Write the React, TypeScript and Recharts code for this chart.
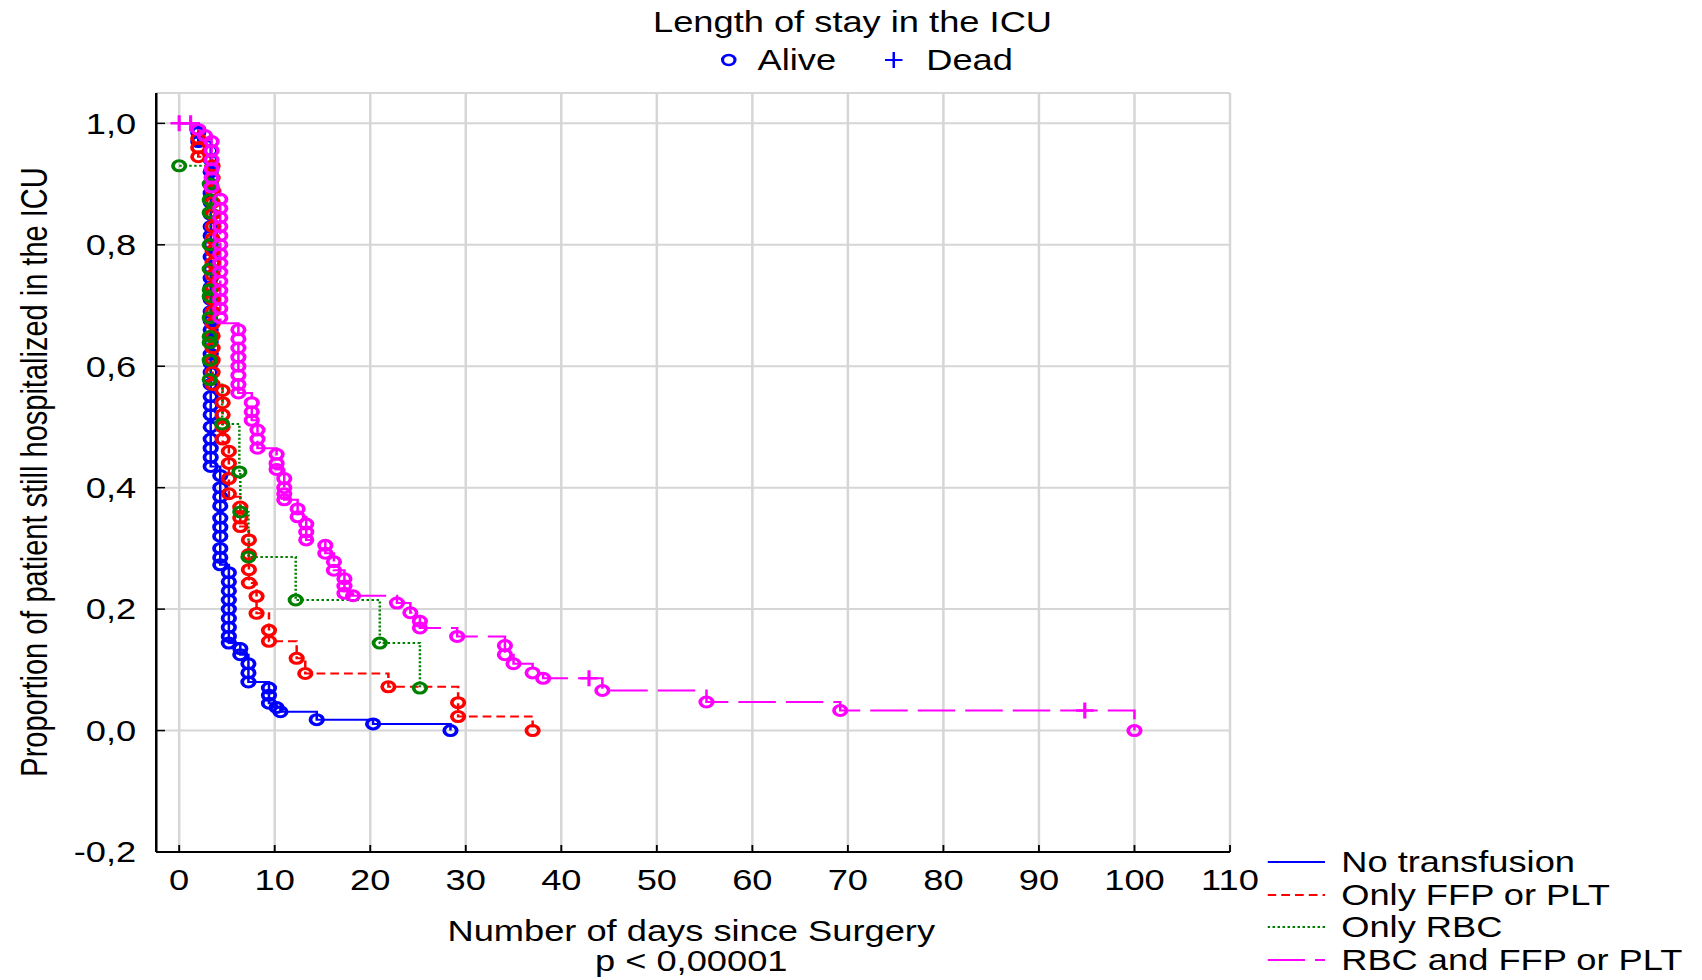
import React from 'react';
import { LineChart, Line, XAxis, YAxis, CartesianGrid } from 'recharts';

// the reference is stretched horizontally, so the whole chart is drawn narrower and scaled
const S = 1.25;
const W = 1362;
const H = 980;
const FONT = "'Liberation Sans', Arial, sans-serif";

const xTicks = [0, 10, 20, 30, 40, 50, 60, 70, 80, 90, 100, 110];
const yTicks = [-0.2, 0, 0.2, 0.4, 0.6, 0.8, 1.0];

const BLUE = '#0000ff';
const RED = '#ff0000';
const GREEN = '#008000';
const MAGENTA = '#ff00ff';

// step curves: [day, proportion still in ICU]
const noTransfusion = [
  [0, 1], [2, 0.97], [3.3, 0.435], [4.3, 0.273], [5.2, 0.144], [6.4, 0.125], [7.25, 0.08],
  [9.4, 0.045], [10.2, 0.038], [10.6, 0.031], [14.4, 0.018], [20.3, 0.011], [28.4, 0],
];
const onlyFfp = [
  [0, 1], [2, 0.945], [3.5, 0.57], [4.55, 0.475], [5.2, 0.385], [6.4, 0.336], [7.3, 0.243],
  [8.1, 0.193], [9.4, 0.147], [12.3, 0.119], [13.2, 0.094], [21.9, 0.072], [29.2, 0.023], [37, 0],
];
const onlyRbc = [
  [0, 0.93], [3.2, 0.57], [4.5, 0.505], [6.3, 0.426], [6.4, 0.36], [7.25, 0.286], [12.2, 0.215],
  [21, 0.144], [25.2, 0.07],
];
const rbcAndFfp = [
  [0, 1], [2, 0.99], [2.7, 0.98], [3.4, 0.89], [4.3, 0.671], [6.2, 0.556], [7.6, 0.511], [8.2, 0.465],
  [10.2, 0.43], [11, 0.38], [12.4, 0.352], [13.3, 0.314], [15.3, 0.292], [16.2, 0.264], [17.3, 0.226],
  [18.2, 0.222], [22.8, 0.21], [24.2, 0.194], [25.2, 0.169], [29.1, 0.155], [34.1, 0.125], [35, 0.11],
  [37, 0.095], [38.1, 0.086], [44.3, 0.066], [55.2, 0.047], [69.2, 0.033], [100, 0],
];

// "Alive" markers (circles): [day, proportions]
const noTransfusionAlive: [number, number[]][] = [
  [2, [0.985, 0.97]],
  [3.3, [0.955, 0.94, 0.92, 0.9, 0.885, 0.87, 0.85, 0.83, 0.815, 0.8, 0.78, 0.76, 0.745, 0.73, 0.71, 0.69,
    0.675, 0.66, 0.64, 0.62, 0.605, 0.59, 0.57, 0.55, 0.535, 0.52, 0.5, 0.48, 0.465, 0.45, 0.435]],
  [4.3, [0.42, 0.4, 0.385, 0.37, 0.35, 0.335, 0.32, 0.3, 0.285, 0.273]],
  [5.2, [0.26, 0.245, 0.23, 0.215, 0.2, 0.185, 0.17, 0.155, 0.144]],
  [6.4, [0.135, 0.125]],
  [7.25, [0.11, 0.095, 0.08]],
  [9.4, [0.07, 0.058, 0.045]],
  [10.2, [0.038]],
  [10.6, [0.031]],
  [14.4, [0.018]],
  [20.3, [0.011]],
  [28.4, [0]],
];
const onlyFfpAlive: [number, number[]][] = [
  [2, [0.975, 0.96, 0.945]],
  [3.5, [0.93, 0.91, 0.89, 0.87, 0.85, 0.83, 0.81, 0.79, 0.77, 0.75, 0.73, 0.71, 0.69, 0.67, 0.65, 0.63,
    0.61, 0.59, 0.57]],
  [4.55, [0.56, 0.54, 0.52, 0.5, 0.48]],
  [5.2, [0.46, 0.44, 0.415, 0.39]],
  [6.4, [0.368, 0.35, 0.336]],
  [7.3, [0.314, 0.29, 0.265, 0.243]],
  [8.1, [0.221, 0.193]],
  [9.4, [0.165, 0.147]],
  [12.3, [0.119]],
  [13.2, [0.094]],
  [21.9, [0.072]],
  [29.2, [0.046, 0.023]],
  [37, [0]],
];
const onlyRbcAlive: [number, number[]][] = [
  [0, [0.93]],
  [3.2, [0.9, 0.874, 0.853, 0.8, 0.76, 0.726, 0.715, 0.68, 0.649, 0.639, 0.61, 0.578]],
  [4.5, [0.505]],
  [6.3, [0.426]],
  [6.4, [0.36]],
  [7.25, [0.286]],
  [12.2, [0.215]],
  [21, [0.144]],
  [25.2, [0.07]],
];
const rbcAndFfpAlive: [number, number[]][] = [
  [2, [0.99]],
  [2.7, [0.98]],
  [3.4, [0.97, 0.955, 0.94, 0.925, 0.91, 0.895]],
  [4.3, [0.875, 0.86, 0.845, 0.83, 0.815, 0.8, 0.785, 0.77, 0.755, 0.74, 0.725, 0.71, 0.695, 0.68]],
  [6.2, [0.66, 0.645, 0.63, 0.615, 0.6, 0.585, 0.57, 0.556]],
  [7.6, [0.54, 0.525, 0.511]],
  [8.2, [0.495, 0.48, 0.465]],
  [10.2, [0.455, 0.44, 0.43]],
  [11, [0.415, 0.4, 0.39, 0.38]],
  [12.4, [0.365, 0.352]],
  [13.3, [0.34, 0.327, 0.314]],
  [15.3, [0.305, 0.292]],
  [16.2, [0.278, 0.264]],
  [17.3, [0.25, 0.238, 0.226]],
  [18.2, [0.222]],
  [22.8, [0.21]],
  [24.2, [0.194]],
  [25.2, [0.18, 0.169]],
  [29.1, [0.155]],
  [34.1, [0.14, 0.125]],
  [35, [0.11]],
  [37, [0.095]],
  [38.1, [0.086]],
  [44.3, [0.066]],
  [55.2, [0.047]],
  [69.2, [0.033]],
  [100, [0]],
];
// "Dead" markers (crosses)
const rbcAndFfpDead = [[0, 1], [1.2, 1], [42.9, 0.086], [94.8, 0.033]];

const toPts = (arr: number[][]) => arr.map(([t, s]) => ({ t, s }));
const fromCols = (cols: [number, number[]][]) => cols.flatMap(([t, ss]) => ss.map((s) => ({ t, s })));

const circleDot = (color: string) => (p: any) => (
  <circle key={`c-${p.index}`} cx={p.cx} cy={p.cy} r={5} fill="none" stroke={color} strokeWidth={3} />
);
const plusDot = (color: string) => (p: any) => (
  <path key={`p-${p.index}`} d={`M${p.cx - 7},${p.cy}H${p.cx + 7}M${p.cx},${p.cy - 8}V${p.cy + 8}`}
    stroke={color} strokeWidth={2.5} fill="none" />
);

const groups = [
  { name: 'No transfusion', color: BLUE, dash: undefined, steps: noTransfusion, alive: noTransfusionAlive },
  { name: 'Only FFP or PLT', color: RED, dash: '7 4', steps: onlyFfp, alive: onlyFfpAlive },
  { name: 'Only RBC', color: GREEN, dash: '2 2', steps: onlyRbc, alive: onlyRbcAlive },
  { name: 'RBC and FFP or PLT', color: MAGENTA, dash: '30 8', steps: rbcAndFfp, alive: rbcAndFfpAlive },
];

const yFmt = (v: number) => v.toFixed(1).replace('.', ',');
const txt: React.CSSProperties = { position: 'absolute', fontSize: 29, lineHeight: '29px', whiteSpace: 'nowrap' };

export default function App() {
  const legendRows = [848, 881, 913, 946];
  return (
    <div style={{ position: 'absolute', left: 0, top: 0, width: 1702, height: H, background: '#fff', overflow: 'hidden' }}>
      <div style={{ position: 'absolute', left: 0, top: 0, width: W, height: H, transform: `scaleX(${S})`, transformOrigin: '0 0', fontFamily: FONT, color: '#000' }}>
        <LineChart width={W} height={H} margin={{ top: 93, right: 378, bottom: 88, left: 65 }} style={{ fontFamily: FONT }}>
          <CartesianGrid stroke="#d6d6d6" strokeWidth={2} />
          <XAxis dataKey="t" type="number" domain={[-2.4, 110]} ticks={xTicks} allowDataOverflow interval={0}
            height={40} tickSize={-7} tickMargin={24} tick={{ fontSize: 29, fill: '#000' }}
            axisLine={{ stroke: '#000', strokeWidth: 2 }} tickLine={{ stroke: '#000', strokeWidth: 1.5 }} />
          <XAxis xAxisId="top" orientation="top" type="number" domain={[-2.4, 110]} ticks={xTicks} allowDataOverflow
            height={0} tick={false} tickSize={-7} axisLine={{ stroke: '#000', strokeWidth: 2 }} tickLine={{ stroke: '#000', strokeWidth: 1.5 }} />
          <YAxis type="number" domain={[-0.2, 1.05]} ticks={yTicks} allowDataOverflow interval={0}
            width={60} tickSize={-7} tickMargin={23} tickFormatter={yFmt} tick={{ fontSize: 29, fill: '#000' }}
            axisLine={{ stroke: '#000', strokeWidth: 2 }} tickLine={{ stroke: '#000', strokeWidth: 1.5 }} />
          <YAxis yAxisId="right" orientation="right" type="number" domain={[-0.2, 1.05]} ticks={yTicks} allowDataOverflow
            width={0} tick={false} tickSize={-7} axisLine={{ stroke: '#000', strokeWidth: 2 }} tickLine={{ stroke: '#000', strokeWidth: 1.5 }} />
          {groups.map((g) => [
            <Line key={`${g.name}-line`} data={toPts(g.steps)} dataKey="s" type="stepAfter" stroke={g.color}
              strokeWidth={2} strokeDasharray={g.dash} dot={false} activeDot={false} isAnimationActive={false} />,
            <Line key={`${g.name}-alive`} data={fromCols(g.alive)} dataKey="s" stroke="none"
              dot={circleDot(g.color)} activeDot={false} isAnimationActive={false} />,
          ])}
          <Line data={toPts(rbcAndFfpDead)} dataKey="s" stroke="none" dot={plusDot(MAGENTA)}
            activeDot={false} isAnimationActive={false} />
        </LineChart>

        <div style={{ ...txt, left: 682, top: 8, transform: 'translateX(-50%)' }}>Length of stay in the ICU</div>
        <svg style={{ position: 'absolute', left: 575, top: 52 }} width={16} height={16}>
          <circle cx={8} cy={8} r={5} fill="none" stroke={BLUE} strokeWidth={2.5} />
        </svg>
        <div style={{ ...txt, left: 606, top: 46 }}>Alive</div>
        <svg style={{ position: 'absolute', left: 706, top: 51 }} width={18} height={18}>
          <path d="M2,9H16M9,1V17" stroke={BLUE} strokeWidth={2} />
        </svg>
        <div style={{ ...txt, left: 741, top: 46 }}>Dead</div>

        <div style={{ ...txt, left: 553, top: 917, transform: 'translateX(-50%)' }}>Number of days since Surgery</div>
        <div style={{ ...txt, left: 553, top: 947, transform: 'translateX(-50%)' }}>p &lt; 0,00001</div>
        <div style={{ ...txt, left: 28, top: 472, width: 0, height: 0 }}>
          <div style={{ position: 'absolute', left: 0, top: 0, transform: 'translate(-50%, -50%) rotate(-90deg)', whiteSpace: 'nowrap' }}>
            Proportion of patient still hospitalized in the ICU
          </div>
        </div>

        {groups.map((g, i) => (
          <React.Fragment key={g.name}>
            <svg style={{ position: 'absolute', left: 1014, top: legendRows[i] + 8 }} width={46} height={12}>
              <line x1={0} y1={6} x2={46} y2={6} stroke={g.color} strokeWidth={2} strokeDasharray={g.dash} />
            </svg>
            <div style={{ ...txt, left: 1073, top: legendRows[i] }}>{g.name}</div>
          </React.Fragment>
        ))}
      </div>
    </div>
  );
}
